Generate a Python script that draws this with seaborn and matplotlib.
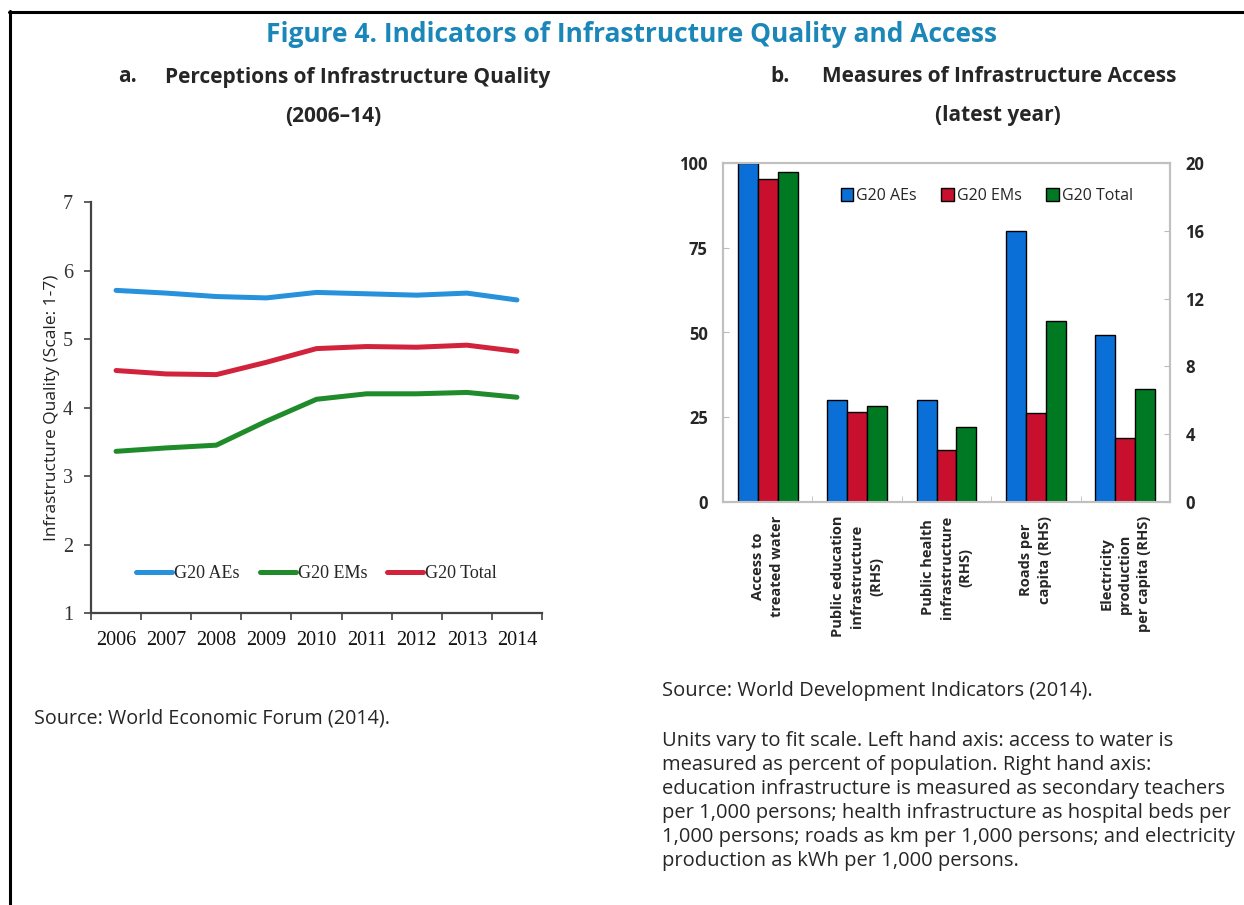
import numpy as np
import pandas as pd
import matplotlib
matplotlib.use("Agg")
import matplotlib.pyplot as plt
from matplotlib.lines import Line2D
from matplotlib.patches import Patch
import seaborn as sns

# Panel a: perceptions of infrastructure quality (scale 1-7)
years = ['2006', '2007', '2008', '2009', '2010', '2011', '2012', '2013', '2014']
g20_aes = [5.71, 5.67, 5.62, 5.60, 5.68, 5.66, 5.64, 5.67, 5.57]
g20_ems = [3.36, 3.41, 3.45, 3.80, 4.12, 4.20, 4.20, 4.22, 4.15]
g20_total = [4.54, 4.49, 4.48, 4.66, 4.86, 4.89, 4.88, 4.91, 4.82]
line_series = ['G20 AEs', 'G20 EMs', 'G20 Total']
line_colors = ['#2791dc', '#1f8b2a', '#d2233c']

# Panel b: measures of infrastructure access (latest year)
indicators = ['Access to\ntreated water',
              'Public education\ninfrastructure\n(RHS)',
              'Public health\ninfrastructure\n(RHS)',
              'Roads per\ncapita (RHS)',
              'Electricity\nproduction\nper capita (RHS)']
bar_groups = ['G20 AEs', 'G20 EMs', 'G20 Total']
bar_colors = ['#0a6fd6', '#c8102e', '#007a22']
# left hand axis (percent of population)
water_aes, water_ems, water_total = 100.0, 95.2, 97.3
# right hand axis
rhs_aes = [6.0, 6.0, 16.0, 9.85]
rhs_ems = [5.33, 3.07, 5.27, 3.8]
rhs_total = [5.68, 4.44, 10.65, 6.68]

sns.set_style('white')
plt.rcParams['font.family'] = ['Open Sans', 'DejaVu Sans']

W, H = 1244, 905
fig = plt.figure(figsize=(W / 100, H / 100), dpi=100)


def box(x0, y0, x1, y1):
    return [x0 / W, 1 - y1 / H, (x1 - x0) / W, (y1 - y0) / H]


# outer frame lines (left and top)
fig.add_artist(Line2D([10 / W, 10 / W], [0, 1 - 11 / H], color='black', lw=2.2, transform=fig.transFigure))
fig.add_artist(Line2D([9 / W, 1], [1 - 12 / H, 1 - 12 / H], color='black', lw=2.2, transform=fig.transFigure))

# titles
fig.text(631 / W, 1 - 35 / H, 'Figure 4. Indicators of Infrastructure Quality and Access',
         ha='center', va='center', fontsize=19, fontweight='bold', color='#1a87b8')
sub = dict(va='center', fontsize=15, fontweight='bold')
fig.text(118 / W, 1 - 77 / H, 'a.', ha='left', **sub)
fig.text(358 / W, 1 - 77 / H, 'Perceptions of Infrastructure Quality', ha='center', **sub)
fig.text(333 / W, 1 - 116 / H, '(2006\u201314)', ha='center', **sub)
fig.text(770 / W, 1 - 77 / H, 'b.', ha='left', **sub)
fig.text(999 / W, 1 - 77 / H, 'Measures of Infrastructure Access', ha='center', **sub)
fig.text(998 / W, 1 - 116 / H, '(latest year)', ha='center', **sub)

# ---- panel a ----
axl = fig.add_axes(box(91, 202, 542, 613))
line_df = pd.DataFrame({
    'pos': list(range(len(years))) * 3,
    'value': g20_aes + g20_ems + g20_total,
    'series': np.repeat(line_series, len(years)),
})
sns.lineplot(data=line_df, x='pos', y='value', hue='series', hue_order=line_series,
             palette=line_colors, linewidth=3.6, ax=axl, legend=True)
axl.set_xlim(-0.5, len(years) - 0.5)
axl.set_ylim(1, 7)
axl.set_yticks(range(1, 8))
axl.set_xticks(range(len(years)))
axl.set_xticklabels(years)
axl.set_xticks(np.arange(-0.5, len(years), 1.0), minor=True)
axl.tick_params(axis='x', which='major', length=0, pad=13, labelsize=14.5, labelcolor='#111111')
axl.tick_params(axis='x', which='minor', length=5, width=1.2, direction='out', color='#444444', bottom=True)
axl.tick_params(axis='y', length=5, width=1.2, direction='out', color='#444444', pad=8,
                labelsize=14.5, labelcolor='#333333', left=True)
for lab in axl.get_xticklabels() + axl.get_yticklabels():
    lab.set_family('Liberation Serif')
for s in ['top', 'right']:
    axl.spines[s].set_visible(False)
for s in ['left', 'bottom']:
    axl.spines[s].set_color('#444444')
    axl.spines[s].set_linewidth(1.6)
axl.set_xlabel('')
axl.set_ylabel('Infrastructure Quality (Scale: 1-7)', fontsize=12.5, color='#222222', labelpad=2)
sns.move_legend(axl, loc='center', bbox_to_anchor=(0.5, 0.095), ncol=3, frameon=False, title=None,
                handlelength=2.0, handletextpad=0.1, columnspacing=1.1,
                prop={'family': 'Liberation Serif', 'size': 13})

fig.text(34 / W, 1 - 718 / H, 'Source: World Economic Forum (2014).', ha='left', va='center', fontsize=14.2)

# ---- panel b ----
axb = fig.add_axes(box(723, 163, 1170, 502))
axr = axb.twinx()
water_df = pd.DataFrame({
    'indicator': [indicators[0]] * 3,
    'group': bar_groups,
    'value': [water_aes, water_ems, water_total],
})
rhs_df = pd.DataFrame({
    'indicator': indicators[1:] * 3,
    'group': np.repeat(bar_groups, len(indicators) - 1),
    'value': rhs_aes + rhs_ems + rhs_total,
})
sns.barplot(data=water_df, x='indicator', y='value', hue='group', order=indicators, hue_order=bar_groups,
            palette=bar_colors, saturation=1, width=0.67, edgecolor='black', linewidth=1.0,
            ax=axb, legend=False)
sns.barplot(data=rhs_df, x='indicator', y='value', hue='group', order=indicators, hue_order=bar_groups,
            palette=bar_colors, saturation=1, width=0.67, edgecolor='black', linewidth=1.0,
            ax=axr, legend=False)
axb.set_xlim(-0.5, len(indicators) - 0.5)
axb.set_ylim(0, 100)
axr.set_ylim(0, 20)
axb.set_yticks([0, 25, 50, 75, 100])
axr.set_yticks([0, 4, 8, 12, 16, 20])
axb.set_xlabel('')
axb.set_ylabel('')
axr.set_ylabel('')
axb.set_xticks(range(len(indicators)))
axb.set_xticklabels(indicators, rotation=90, ha='center', va='top', multialignment='center',
                    fontsize=10.5, fontweight='bold', linespacing=1.45)
axb.set_xticks(np.arange(-0.5, len(indicators), 1.0), minor=True)
axb.tick_params(axis='x', which='major', length=0, pad=10)
axb.tick_params(axis='x', which='minor', length=4, direction='in', color='#bbbbbb', bottom=True)
axb.tick_params(axis='y', length=4, direction='in', color='#bbbbbb', pad=11, labelsize=12, left=True)
axr.tick_params(axis='y', length=4, direction='in', color='#bbbbbb', pad=11, labelsize=12, right=True)
for lab in axb.get_yticklabels() + axr.get_yticklabels():
    lab.set_fontweight('bold')
for a in (axb, axr):
    for s in a.spines.values():
        s.set_color('#c0c0c0')
        s.set_linewidth(1.5)

handles = [Patch(facecolor=c, edgecolor='black', linewidth=1.0) for c in bar_colors]
axr.legend(handles, bar_groups, loc='center', bbox_to_anchor=(0.59, 0.903), ncol=3, frameon=False,
           handlelength=0.8, handleheight=0.9, handletextpad=0.2, columnspacing=1.5,
           prop={'size': 11.5})

fig.text(662 / W, 1 - 691 / H, 'Source: World Development Indicators (2014).', ha='left', va='center',
         fontsize=14.5)
notes = ['Units vary to fit scale. Left hand axis: access to water is',
         'measured as percent of population. Right hand axis:',
         'education infrastructure is measured as secondary teachers',
         'per 1,000 persons; health infrastructure as hospital beds per',
         '1,000 persons; roads as km per 1,000 persons; and electricity',
         'production as kWh per 1,000 persons.']
for i, line in enumerate(notes):
    fig.text(662 / W, 1 - (741 + 24 * i) / H, line, ha='left', va='center', fontsize=14.5)

fig.savefig('out.png', dpi=100)
